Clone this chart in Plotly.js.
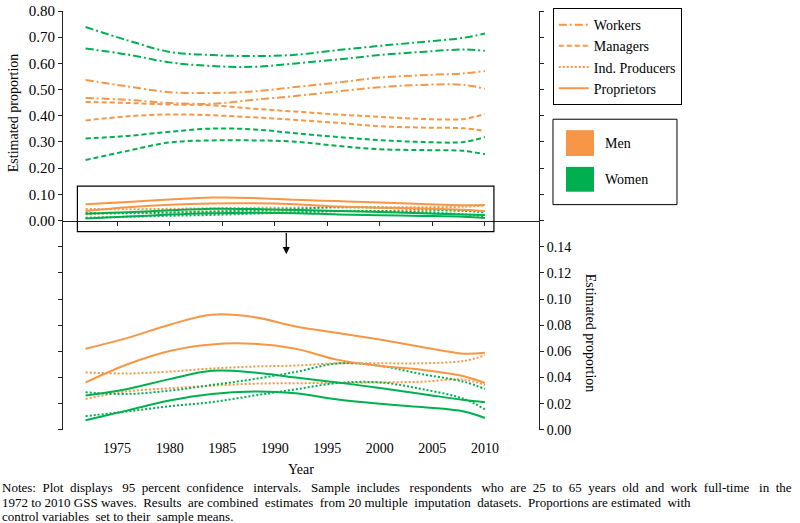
<!DOCTYPE html>
<html>
<head>
<meta charset="utf-8">
<script src="https://cdn.plot.ly/plotly-3.0.1.min.js"></script>
<style>html,body{margin:0;padding:0;background:#fff;}#chart{width:800px;height:523px;}</style>
</head>
<body>
<div id="chart"></div>
<script>
// ---------- data ----------
const years = [1972, 1976, 1980, 1984, 1988, 1992, 1996, 2000, 2004, 2008, 2010];

// Workers (upper / lower 95% CI bounds)
const menWorkersHi   = [0.537, 0.512, 0.490, 0.487, 0.493, 0.510, 0.527, 0.546, 0.555, 0.562, 0.571];
const menWorkersLo   = [0.468, 0.461, 0.449, 0.446, 0.461, 0.476, 0.493, 0.509, 0.518, 0.518, 0.503];
const womenWorkersHi = [0.739, 0.688, 0.644, 0.632, 0.628, 0.633, 0.651, 0.667, 0.682, 0.698, 0.714];
const womenWorkersLo = [0.657, 0.634, 0.604, 0.590, 0.587, 0.600, 0.615, 0.632, 0.644, 0.653, 0.648];
// Managers
const menManagersHi   = [0.453, 0.449, 0.443, 0.440, 0.427, 0.416, 0.405, 0.396, 0.388, 0.388, 0.407];
const menManagersLo   = [0.382, 0.398, 0.405, 0.402, 0.394, 0.384, 0.373, 0.360, 0.355, 0.352, 0.342];
const womenManagersHi = [0.313, 0.323, 0.339, 0.351, 0.348, 0.333, 0.319, 0.307, 0.300, 0.300, 0.319];
const womenManagersLo = [0.231, 0.266, 0.298, 0.306, 0.306, 0.301, 0.285, 0.272, 0.269, 0.266, 0.253];
// Independent producers
const menIndProdHi   = [0.0439, 0.0431, 0.0446, 0.0469, 0.0484, 0.0492, 0.0509, 0.0509, 0.0509, 0.0527, 0.0570];
const menIndProdLo   = [0.0237, 0.0295, 0.0318, 0.0338, 0.0353, 0.0357, 0.0358, 0.0363, 0.0368, 0.0384, 0.0343];
const womenIndProdHi = [0.0287, 0.0275, 0.0300, 0.0343, 0.0388, 0.0443, 0.0508, 0.0490, 0.0426, 0.0368, 0.0312];
const womenIndProdLo = [0.0105, 0.0141, 0.0181, 0.0212, 0.0262, 0.0310, 0.0358, 0.0363, 0.0312, 0.0237, 0.0157];
// Proprietors
const menPropHi   = [0.0620, 0.0703, 0.0804, 0.0880, 0.0862, 0.0790, 0.0741, 0.0690, 0.0633, 0.0582, 0.0590];
const menPropLo   = [0.0363, 0.0502, 0.0603, 0.0653, 0.0658, 0.0620, 0.0535, 0.0489, 0.0460, 0.0410, 0.0358];
const womenPropHi = [0.0262, 0.0313, 0.0388, 0.0451, 0.0439, 0.0400, 0.0362, 0.0320, 0.0275, 0.0228, 0.0212];
const womenPropLo = [0.0073, 0.0149, 0.0225, 0.0275, 0.0293, 0.0280, 0.0232, 0.0199, 0.0174, 0.0141, 0.0091];

const xTickVals = [1975, 1980, 1985, 1990, 1995, 2000, 2005, 2010];
const leftTickVals  = [-0.8,-0.7,-0.6,-0.5,-0.4,-0.3,-0.2,-0.1,0,0.1,0.2,0.3,0.4,0.5,0.6,0.7,0.8];
const leftTickText  = ['','','','','','','','','0.00','0.10','0.20','0.30','0.40','0.50','0.60','0.70','0.80'];
const rightTickVals = [0,0.02,0.04,0.06,0.08,0.10,0.12,0.14,0.16,0.18,0.20,0.22,0.24,0.26,0.28,0.30,0.32];
const rightTickText = ['0.00','0.02','0.04','0.06','0.08','0.10','0.12','0.14','','','','','','','','',''];

const notes = [
  'Notes:  Plot  displays   95  percent  confidence   intervals.   Sample  includes   respondents   who  are  25  to  65  years  old  and  work  full-time   in  the',
  '1972 to 2010 GSS waves.  Results  are combined  estimates  from 20 multiple  imputation  datasets.  Proportions are estimated  with',
  'control variables  set to their  sample means.'
];

// ---------- styles ----------
const ORANGE = '#F79646', GREEN = '#00B050';
const DASH = {workers: '8px,3px,2px,3px', managers: '5px,3px', ind: '2px,2px', prop: 'solid'};
const FONT = 'Liberation Serif, Times New Roman, serif';

function tr(y, color, dash, xaxis, yaxis, name, legend, rank) {
  return {
    x: years, y: y, type: 'scatter', mode: 'lines', xaxis: xaxis, yaxis: yaxis,
    line: {color: color, dash: dash, width: 2, shape: 'spline', smoothing: 1},
    name: name || '', showlegend: !!legend, legendrank: rank || 1000, hoverinfo: 'skip'
  };
}

const traces = [
  // top panel (left axis)
  tr(womenWorkersHi, GREEN, DASH.workers, 'x', 'y'),
  tr(womenWorkersLo, GREEN, DASH.workers, 'x', 'y'),
  tr(menWorkersHi, ORANGE, DASH.workers, 'x', 'y', 'Workers', true, 1),
  tr(menWorkersLo, ORANGE, DASH.workers, 'x', 'y'),
  tr(menManagersHi, ORANGE, DASH.managers, 'x', 'y', 'Managers', true, 2),
  tr(menManagersLo, ORANGE, DASH.managers, 'x', 'y'),
  tr(womenManagersHi, GREEN, DASH.managers, 'x', 'y'),
  tr(womenManagersLo, GREEN, DASH.managers, 'x', 'y'),
  // top panel small categories, drawn against the zero-line x axis
  tr(menIndProdHi, ORANGE, DASH.ind, 'x2', 'y'),
  tr(menIndProdLo, ORANGE, DASH.ind, 'x2', 'y'),
  tr(womenIndProdHi, GREEN, DASH.ind, 'x2', 'y'),
  tr(womenIndProdLo, GREEN, DASH.ind, 'x2', 'y'),
  tr(menPropHi, ORANGE, DASH.prop, 'x2', 'y'),
  tr(menPropLo, ORANGE, DASH.prop, 'x2', 'y'),
  tr(womenPropHi, GREEN, DASH.prop, 'x2', 'y'),
  tr(womenPropLo, GREEN, DASH.prop, 'x2', 'y'),
  // bottom panel (right axis, magnified)
  tr(menIndProdHi, ORANGE, DASH.ind, 'x', 'y2', 'Ind. Producers', true, 3),
  tr(menIndProdLo, ORANGE, DASH.ind, 'x', 'y2'),
  tr(womenIndProdHi, GREEN, DASH.ind, 'x', 'y2'),
  tr(womenIndProdLo, GREEN, DASH.ind, 'x', 'y2'),
  tr(menPropHi, ORANGE, DASH.prop, 'x', 'y2', 'Proprietors', true, 4),
  tr(menPropLo, ORANGE, DASH.prop, 'x', 'y2'),
  tr(womenPropHi, GREEN, DASH.prop, 'x', 'y2'),
  tr(womenPropLo, GREEN, DASH.prop, 'x', 'y2')
];

const xRange = [1969.85, 2015.15];
const AX = '#222';

const layout = {
  width: 800, height: 523,
  margin: {l: 63, r: 261, t: 8, b: 93},
  paper_bgcolor: '#fff', plot_bgcolor: '#fff',
  font: {family: FONT, size: 14, color: '#000'},
  showlegend: true,
  legend: {
    x: 1.029, xanchor: 'left', y: 1.007, yanchor: 'top',
    bordercolor: '#000', borderwidth: 1, bgcolor: '#fff',
    font: {family: FONT, size: 14, color: '#000'},
    tracegroupgap: 0
  },
  xaxis: {
    range: xRange, domain: [0, 1], anchor: 'y',
    showline: false, zeroline: false, showgrid: false,
    tickmode: 'array', tickvals: xTickVals, ticks: '',
    ticklabelstandoff: 8,
    tickfont: {family: FONT, size: 14},
    title: {text: 'Year', font: {family: FONT, size: 14}, standoff: 9}
  },
  xaxis2: {
    range: xRange, overlaying: 'x', anchor: 'free', position: 0.5,
    showline: true, linecolor: AX, linewidth: 1, zeroline: false, showgrid: false,
    tickmode: 'array', tickvals: xTickVals, ticks: 'outside', ticklen: 4, tickcolor: AX,
    showticklabels: false
  },
  yaxis: {
    range: [-0.8002, 0.8002], domain: [0, 1], side: 'left', anchor: 'x',
    showline: true, linecolor: AX, linewidth: 1, zeroline: false, showgrid: false,
    tickmode: 'array', tickvals: leftTickVals, ticktext: leftTickText,
    ticks: 'outside', ticklen: 4, tickcolor: AX, ticklabeloverflow: 'allow',
    tickfont: {family: FONT, size: 15}
  },
  yaxis2: {
    range: [-0.00008, 0.32008], overlaying: 'y', side: 'right', anchor: 'x',
    showline: true, linecolor: AX, linewidth: 1, zeroline: false, showgrid: false,
    tickmode: 'array', tickvals: rightTickVals, ticktext: rightTickText,
    ticks: 'outside', ticklen: 4, tickcolor: AX, ticklabeloverflow: 'allow',
    tickfont: {family: FONT, size: 14}
  },
  shapes: [
    // zoom frame around the small categories
    {type: 'rect', xref: 'x', yref: 'y', x0: 1971.22, x1: 2010.86, y0: -0.0427, y1: 0.1312,
     line: {color: '#000', width: 1.2}, fillcolor: 'rgba(0,0,0,0)'},
    // gender legend box
    {type: 'rect', xref: 'paper', yref: 'paper', x0: 1.0294, x1: 1.2899, y0: 0.5379, y1: 0.7417,
     line: {color: '#000', width: 1}, fillcolor: '#fff'},
    {type: 'rect', xref: 'paper', yref: 'paper', x0: 1.0567, x1: 1.1155, y0: 0.654, y1: 0.7156,
     line: {width: 0}, fillcolor: ORANGE},
    {type: 'rect', xref: 'paper', yref: 'paper', x0: 1.0567, x1: 1.1155, y0: 0.5687, y1: 0.628,
     line: {width: 0}, fillcolor: GREEN}
  ],
  annotations: [
    {xref: 'x', yref: 'y', x: 1991.1, y: -0.1286, ax: 0, ay: -23, axref: 'pixel', ayref: 'pixel',
     text: '', showarrow: true, arrowhead: 2, arrowsize: 1.2, arrowwidth: 1.2, arrowcolor: '#000', standoff: 0},
    {xref: 'paper', yref: 'paper', x: 1.1345, y: 0.6848, xanchor: 'left', yanchor: 'middle',
     text: 'Men', showarrow: false, font: {family: FONT, size: 14}},
    {xref: 'paper', yref: 'paper', x: 1.1345, y: 0.5972, xanchor: 'left', yanchor: 'middle',
     text: 'Women', showarrow: false, font: {family: FONT, size: 14}},
    {xref: 'paper', yref: 'paper', x: -0.105, y: 0.756, xanchor: 'center', yanchor: 'middle',
     text: 'Estimated proportion', textangle: -90, showarrow: false, font: {family: FONT, size: 14}},
    {xref: 'paper', yref: 'paper', x: 1.107, y: 0.2299, xanchor: 'center', yanchor: 'middle',
     text: 'Estimated proportion', textangle: 90, showarrow: false, font: {family: FONT, size: 14}},
    {xref: 'paper', yref: 'paper', x: -0.1324, y: -0.1374, xanchor: 'left', yanchor: 'middle',
     text: notes[0], showarrow: false, font: {family: FONT, size: 13}},
    {xref: 'paper', yref: 'paper', x: -0.1324, y: -0.173, xanchor: 'left', yanchor: 'middle',
     text: notes[1], showarrow: false, font: {family: FONT, size: 13}},
    {xref: 'paper', yref: 'paper', x: -0.1324, y: -0.2062, xanchor: 'left', yanchor: 'middle',
     text: notes[2], showarrow: false, font: {family: FONT, size: 13}}
  ]
};

Plotly.newPlot('chart', traces, layout, {displayModeBar: false, staticPlot: true});
</script>
</body>
</html>
